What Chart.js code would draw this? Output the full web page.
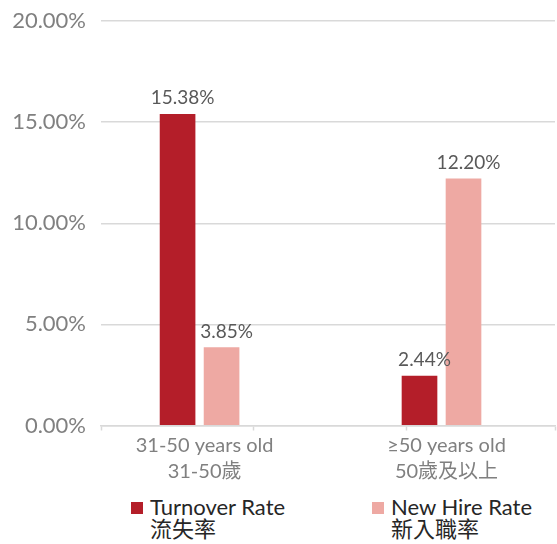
<!DOCTYPE html>
<html>
<head>
<meta charset="utf-8">
<script src="https://cdn.jsdelivr.net/npm/chart.js@4.4.0/dist/chart.umd.min.js"></script>
<style>
  html, body { margin: 0; padding: 0; background: #fff; }
  #page { position: relative; width: 557px; height: 544px; }
  #wrap { position: absolute; left: 0; top: 0; width: 557px; height: 490px; }
  #legend { position: absolute; left: 0; top: 496px; display: flex; padding-left: 131px;
            font-family: Lato, "Noto Sans CJK TC", sans-serif; font-size: 22px; line-height: 22px; color: #262626; }
  .item { display: flex; width: 241px; }
  .box { width: 12px; height: 12px; margin-top: 6px; margin-right: 7px; flex: none; }
</style>
</head>
<body>
<div id="page">
  <div id="wrap"><canvas id="chartRates"></canvas></div>
  <div id="legend"></div>
</div>
<script>
// Data
const categories = [["31-50 years old", "31-50歲"], ["≥50 years old", "50歲及以上"]];
const seriesNames = [["Turnover Rate", "流失率"], ["New Hire Rate", "新入職率"]];
const turnoverRate = [15.38, 2.44];
const newHireRate = [3.85, 12.20];
const yTicks = [0, 5, 10, 15, 20];

const colors = ["#b41e29", "#eea9a3"];
const fontFamily = "Lato, 'Noto Sans CJK TC', sans-serif";

Chart.defaults.font.family = fontFamily;

// x axis bounds so the two groups sit where they do in the original
const xMin = -0.4074, xMax = 1.4691;
const xTickMarks = [xMin, 0, 0.2222, 0.856, 1, xMax];

// value labels above the bars
const valueLabels = {
  id: "valueLabels",
  afterDatasetsDraw(chart) {
    const ctx = chart.ctx;
    ctx.save();
    ctx.font = "19px " + fontFamily;
    ctx.fillStyle = "#595959";
    ctx.textAlign = "center";
    ctx.textBaseline = "alphabetic";
    chart.data.datasets.forEach((ds, i) => {
      chart.getDatasetMeta(i).data.forEach((bar, j) => {
        ctx.fillText(ds.data[j].y.toFixed(2) + "%", bar.x + 5, bar.y - 10);
      });
    });
    ctx.restore();
  }
};

const toPoints = arr => arr.map((v, i) => ({ x: i, y: v }));

const chart = new Chart(document.getElementById("chartRates"), {
  type: "bar",
  data: {
    datasets: [
      { label: seriesNames[0].join(" "), data: toPoints(turnoverRate), backgroundColor: colors[0] },
      { label: seriesNames[1].join(" "), data: toPoints(newHireRate), backgroundColor: colors[1] }
    ]
  },
  options: {
    responsive: true,
    maintainAspectRatio: false,
    animation: false,
    barThickness: 44,
    maxBarThickness: 35,
    layout: { padding: { top: 21, left: 0, right: 0, bottom: 0 } },
    plugins: {
      tooltip: { enabled: false },
      legend: { display: false }
    },
    scales: {
      x: {
        type: "linear",
        offset: false,
        min: xMin,
        max: xMax,
        afterBuildTicks: scale => { scale.ticks = xTickMarks.map(v => ({ value: v })); },
        afterFit: scale => { scale.height = 64.5; },
        grid: {
          offset: false,
          drawOnChartArea: false,
          tickLength: 5,
          tickWidth: 1.5,
          tickColor: c => Number.isInteger(c.tick && c.tick.value) ? "rgba(0,0,0,0)" : "#d9d9d9"
        },
        border: { color: "#d9d9d9", width: 1.5 },
        ticks: {
          autoSkip: false,
          maxRotation: 0,
          padding: 2,
          labelOffset: 5,
          color: "#808080",
          font: { size: 20, lineHeight: 1.3 },
          callback: v => Number.isInteger(v) ? categories[v] : ""
        }
      },
      y: {
        min: 0,
        max: 20,
        afterBuildTicks: scale => { scale.ticks = yTicks.map(v => ({ value: v })); },
        afterFit: scale => { scale.width = 101; scale.paddingTop = 0; scale.paddingBottom = 0; },
        grid: { color: "#d9d9d9", lineWidth: 1.5, drawTicks: false },
        border: { display: false },
        ticks: {
          padding: 15,
          color: "#808080",
          font: { size: 22 },
          callback: v => v.toFixed(2) + "%"
        }
      }
    }
  },
  plugins: [valueLabels]
});

// legend below the chart, two lines per item
const legend = document.getElementById("legend");
chart.data.datasets.forEach((ds, i) => {
  const item = document.createElement("div");
  item.className = "item";
  const box = document.createElement("span");
  box.className = "box";
  box.style.background = ds.backgroundColor;
  const text = document.createElement("div");
  text.innerHTML = seriesNames[i].join("<br>");
  item.appendChild(box);
  item.appendChild(text);
  legend.appendChild(item);
});
</script>
</body>
</html>
